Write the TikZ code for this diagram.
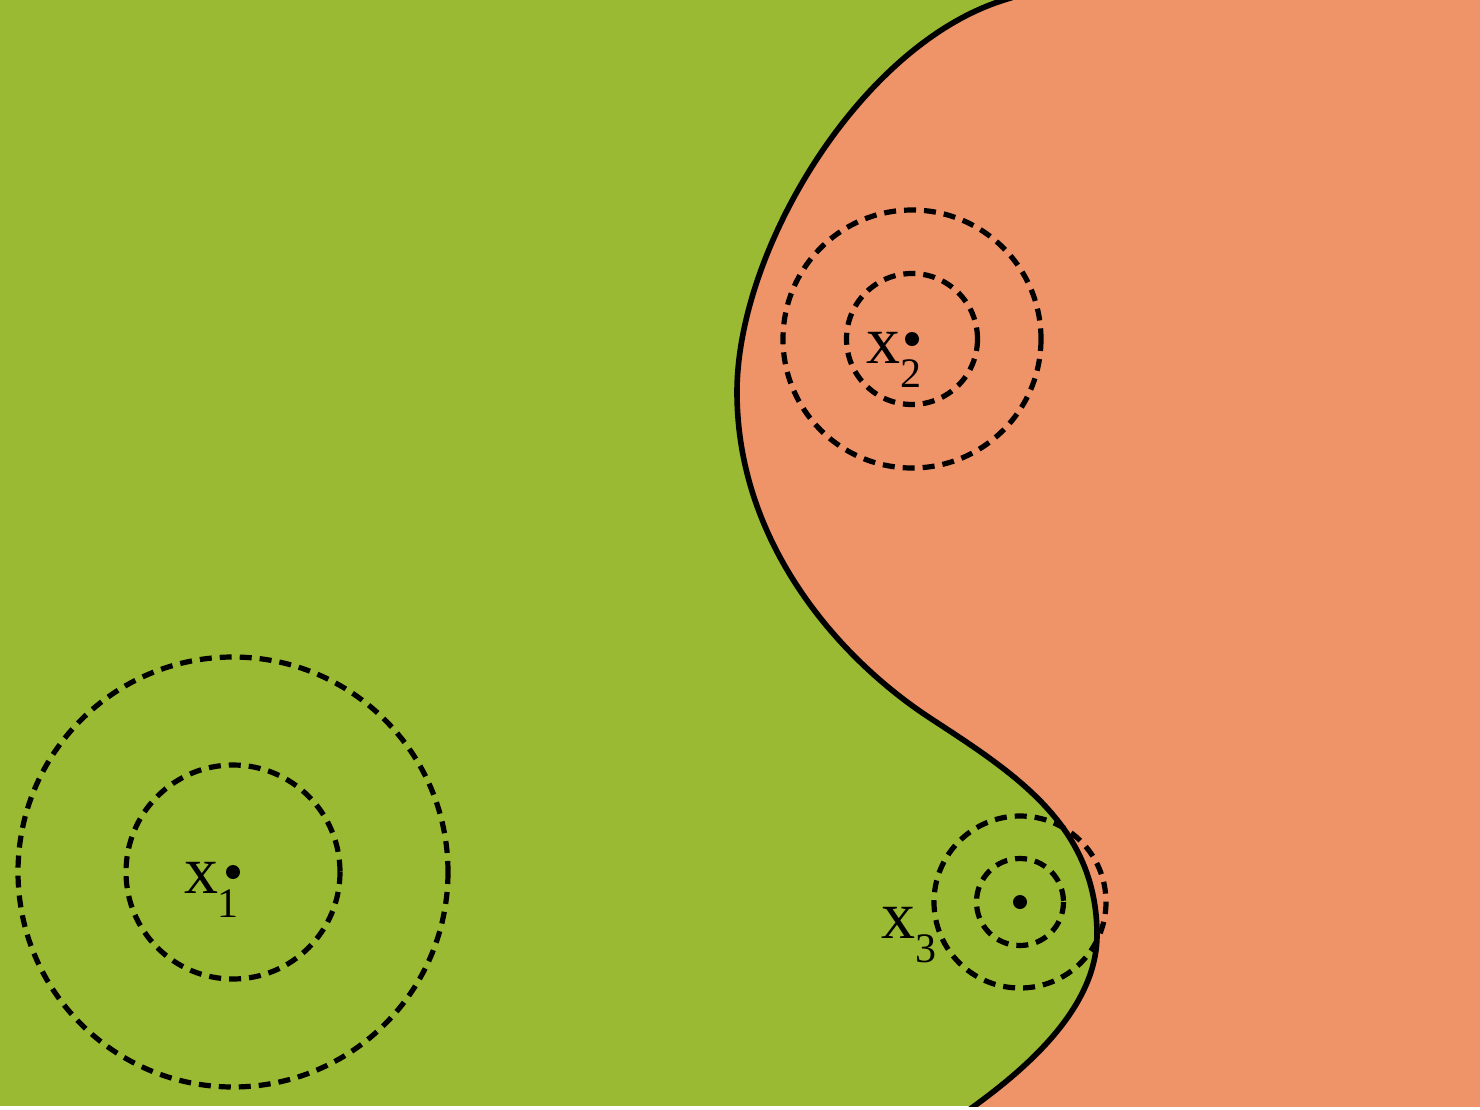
\documentclass[tikz,border=0pt]{standalone}
\usepackage{fontspec}
\setmainfont{Liberation Serif}
\definecolor{leafgreen}{RGB}{154,186,51}
\definecolor{salmon}{RGB}{239,147,105}
\tikzset{
  boundary/.style={line width=2.8pt, line join=round},
  ring/.style={draw=black, line width=2.6pt, dash pattern=on 6pt off 4pt},
  centerdot/.style={fill=black},
  lbl/.style={anchor=base west, inner sep=0pt, outer sep=0pt, font=\fontsize{34}{34}\selectfont}
}
\newcommand{\subidx}[1]{\raisebox{-12pt}{\fontsize{21}{21}\selectfont #1}}
\newcommand{\boundarypath}{(1004,0) .. controls (860,45) and (737,250) .. (737,392)
  .. controls (737,542) and (837.6,657.5) .. (930,718)
  .. controls (1014,773) and (1097,825) .. (1097,935)
  .. controls (1097,1010) and (1021.6,1071.6) .. (973,1107)}
\begin{document}
\begin{tikzpicture}[x=0.5pt,y=-0.5pt]
\useasboundingbox (0,0) rectangle (1480,1110);
\fill[white] (0,0) rectangle (1480,1110);
\begin{scope}
  \clip (0,0) rectangle (1480,1106);
  \fill[leafgreen] (0,0) rectangle (1480,1106);
  \fill[salmon] \boundarypath -- (1520,1107) -- (1520,0) -- cycle;
  \draw[boundary] (1100,-30) -- (1004,0) \boundarypath -- (940,1131);
\end{scope}
% points
\coordinate (p1) at (233,872);
\coordinate (p2) at (912,339);
\coordinate (p3) at (1020,902);
% rings
\draw[ring] (p1) circle (107);
\draw[ring] (p1) circle (215);
\draw[ring] (p2) circle (65.5);
\draw[ring] (p2) circle (129);
\draw[ring] (p3) circle (43.5);
\draw[ring] (p3) circle (86);
% dots
\fill[centerdot] (p1) circle (7);
\fill[centerdot] (p2) circle (7);
\fill[centerdot] (p3) circle (7);
% labels
\node[lbl] (l1) at (184,893) {x\subidx{1}};
\node[lbl] (l2) at (866,363) {x\subidx{2}};
\node[lbl] (l3) at (881,938) {x\subidx{3}};
\end{tikzpicture}
\end{document}
